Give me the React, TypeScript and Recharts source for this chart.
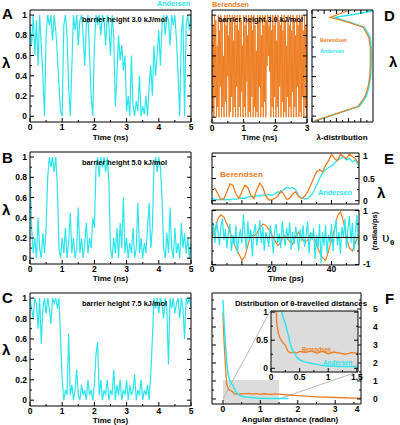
import React from "react";
import { ComposedChart, Line, XAxis, YAxis, ReferenceLine, ReferenceArea } from "recharts";

const FONT = '"Liberation Sans", Arial, Helvetica, sans-serif';
const CYAN = "#2CE6EE";
const ORANGE = "#EE7D22";

// λ(t) traces, one sample every 0.05 ns (A–C) / 0.02 ns (D, Berendsen)
const lambdaA = [
  0.9, 0.7, 1.0, 0.6, 0.95, 0.5, 1.0, 0.7, 0.4, 0.0, 0.8, 1.0, 0.9, 1.0, 0.75, 1.0, 0.85, 0.6, 0.3, 0.05,
  0.0, 0.9, 1.0, 0.8, 0.3, 0.0, 0.5, 1.0, 0.85, 1.0, 0.7, 0.95, 1.0, 0.8, 0.5, 0.9, 1.0, 0.6, 0.2, 0.0,
  0.7, 1.0, 0.9, 1.0, 0.8, 1.0, 0.95, 0.7, 1.0, 0.9, 0.6, 1.0, 0.8, 0.1, 0.4, 0.8, 0.55, 0.7, 0.45, 0.6,
  0.05, 0.2, 0.0, 0.6, 0.1, 0.0, 0.15, 0.05, 0.4, 0.0, 0.1, 0.02, 0.2, 0.0, 0.3, 0.5, 0.2, 0.7, 0.4, 0.6,
  0.85, 0.5, 0.9, 1.0, 0.8, 1.0, 0.95, 0.7, 1.0, 0.9, 1.0, 0.75, 0.4, 0.0, 0.8, 1.0, 0.0, 0.9, 1.0, 0.85,
  1.0,
];
const lambdaB = [
  0.9, 0.3, 0.05, 0.2, 0.0, 0.4, 0.1, 0.0, 0.25, 0.05, 0.3, 0.8, 1.0, 0.9, 1.0, 0.85, 1.0, 0.7, 0.1, 0.0,
  0.2, 0.05, 0.3, 0.0, 0.15, 0.45, 0.05, 0.2, 0.0, 0.1, 0.5, 0.05, 0.2, 0.0, 0.15, 0.35, 0.05, 0.2, 0.1, 0.4,
  0.3, 0.9, 1.0, 0.8, 1.0, 0.9, 1.0, 0.85, 1.0, 0.75, 0.1, 0.0, 0.2, 0.05, 0.3, 0.0, 0.35, 0.1, 0.6, 0.05,
  0.2, 0.0, 0.15, 0.05, 0.3, 0.0, 0.1, 0.55, 0.05, 0.2, 0.0, 0.15, 0.05, 0.3, 0.55, 0.1, 0.3, 0.9, 1.0, 0.85,
  1.0, 0.9, 0.6, 0.1, 0.0, 0.25, 0.05, 0.5, 0.1, 0.0, 0.3, 0.05, 0.15, 0.0, 0.35, 0.1, 0.25, 0.05, 0.2, 0.0,
  0.15,
];
const lambdaC = [
  1.0, 0.9, 0.8, 1.0, 0.95, 0.7, 1.0, 0.55, 0.9, 1.0, 0.85, 1.0, 0.9, 0.75, 1.0, 0.95, 1.0, 0.9, 1.0, 0.6,
  0.2, 0.0, 0.1, 0.05, 0.65, 0.05, 0.15, 0.0, 0.1, 0.3, 0.05, 0.0, 0.15, 0.05, 0.1, 0.0, 0.2, 0.05, 0.1, 0.0,
  0.15, 0.45, 0.57, 0.05, 0.2, 0.0, 0.1, 0.05, 0.2, 0.0, 0.1, 0.05, 0.3, 0.0, 0.15, 0.05, 0.2, 0.0, 0.1, 0.05,
  0.2, 0.0, 0.15, 0.05, 0.1, 0.25, 0.0, 0.1, 0.05, 0.2, 0.0, 0.1, 0.05, 0.15, 0.0, 0.25, 0.6, 1.0, 0.9, 1.0,
  0.85, 1.0, 0.95, 0.8, 1.0, 0.9, 0.35, 1.0, 0.9, 1.0, 0.85, 0.95, 1.0, 0.8, 1.0, 0.9, 0.6, 1.0, 0.95, 1.0,
  0.9,
];
const lambdaD = [
  1, 0.05, 0.9, 0, 1, 0.2, 0.95, 0.0, 0.7, 0.1, 1, 0.0, 0.85, 0.3, 1, 0.0, 0.95, 0.1, 0.6, 0.0,
  1, 0.15, 0.9, 0.0, 1, 0.4, 0.8, 0.0, 1, 0.05, 0.95, 0.2, 1, 0.0, 0.75, 0.1, 1, 0.0, 0.9, 0.3,
  1, 0.0, 0.85, 0.1, 1, 0.0, 0.95, 0.25, 0.7, 0.0, 1, 0.1, 0.9, 0.0, 1, 0.35, 0.8, 0.0, 1, 0.05,
  0.95, 0.0, 1, 0.2, 0.85, 0.0, 1, 0.1, 0.9, 0.0, 0.65, 0.05, 1, 0.0, 0.95, 0.3, 1, 0.0, 0.8, 0.1,
  1, 0.0, 0.9, 0.15, 1, 0.0, 0.95, 0.5, 1, 0.6, 0.9, 0.45, 1, 0.0, 0.85, 0.1, 1, 0.0, 0.9, 0.2,
  1, 0.0, 0.75, 0.1, 1, 0.0, 0.95, 0.3, 0.9, 0.0, 1, 0.15, 0.85, 0.0, 1, 0.05, 0.95, 0.0, 0.7, 0.2,
  1, 0.0, 0.9, 0.1, 1, 0.0, 0.85, 0.25, 1, 0.0, 0.95, 0.1, 0.8, 0.0, 1, 0.3, 0.9, 0.0, 1, 0.05,
  0.95, 0.0, 1, 0.2, 0.85, 0.0, 1, 0.1, 0.9, 0.0, 1,
];

// λ-distribution (panel D, right)
const distLambda = [1.05, 1.0, 0.9, 0.8, 0.7, 0.6, 0.5, 0.4, 0.3, 0.2, 0.1, 0.05, 0.0, -0.03, -0.065];
const distBerendsen = [0.04, 0.28, 0.76, 0.87, 0.92, 0.945, 0.955, 0.957, 0.955, 0.93, 0.84, 0.6, 0.3, 0.42, 0.58];
const distAndersen = [0.04, 0.29, 0.78, 0.89, 0.935, 0.96, 0.97, 0.972, 0.97, 0.95, 0.86, 0.62, 0.36, 0.68, 1.0];

// panel E, 1 ps samples (λ) ; velocity: Berendsen 1 ps, Andersen 0.5 ps
const eLambdaBerendsen = [
  0.25, 0.28, 0.15, 0.02, 0.05, 0.2, 0.38, 0.35, 0.15, 0.05, 0.2, 0.35, 0.3, 0.12, 0.05, 0.25, 0.4, 0.3, 0.1, 0.02,
  0.02, 0.05, 0.1, 0.22, 0.15, 0.03, 0.05, 0.15, 0.2, 0.1, 0.05, 0.1, 0.2, 0.35, 0.5, 0.65, 0.7, 0.65, 0.8, 0.9,
  1.05, 0.95, 0.9, 1.05, 1.0, 0.95, 1.05, 1.0, 0.95, 0.85,
];
const eLambdaAndersen = [
  0.05, 0.03, 0.02, 0.04, 0.02, 0.03, 0.02, 0.04, 0.03, 0.05, 0.06, 0.05, 0.08, 0.1, 0.09, 0.12, 0.1, 0.13, 0.12, 0.14,
  0.12, 0.15, 0.2, 0.18, 0.25, 0.3, 0.28, 0.3, 0.25, 0.1, 0.06, 0.04, 0.05, 0.1, 0.2, 0.35, 0.5, 0.62, 0.7, 0.75,
  0.78, 0.85, 0.92, 0.95, 1.0, 0.92, 0.95, 0.88, 0.92, 0.8,
];
const eVelBerendsen = [
  0.0, 0.3, 0.7, 0.85, 0.75, 0.5, 0.2, -0.1, -0.4, -0.6, -0.85, -0.7, -0.3, 0.1, 0.05, 0.15, 0.35, 0.5, 0.45, 0.3,
  0.1, -0.1, -0.3, -0.2, 0.1, 0.0, -0.15, -0.25, 0.05, 0.2, 0.0, -0.2, -0.1, 0.15, 0.1, -0.3, -0.55, -0.75, -0.85, -0.5,
  -0.1, 0.3, 0.8, 0.95, 0.6, 0.0, -0.4, -0.5, -0.2, 0.1,
];
const eVelAndersen = [
  0.1, 0.5, -0.2, 0.6, 0.2, -0.3, 0.4, 0.7, -0.1, 0.3, -0.4, 0.2, 0.5, -0.5, 0.1, -0.3, 0.45, -0.6, 0.0, 0.3,
  -0.2, 0.85, 0.1, -0.45, 0.6, -0.1, 0.3, -0.7, 0.2, 0.5, -0.3, 0.1, 0.65, -0.2, 0.4, -0.5, 0.2, 0.0, -0.35, 0.45,
  0.1, -0.6, 0.3, 0.5, -0.2, 0.15, -0.4, 0.6, 0.0, -0.3, 0.35, -0.1, 0.55, -0.45, 0.2, -0.25, 0.4, 0.05, -0.5, 0.3,
  -0.15, 0.45, -0.35, 0.1, 0.6, -0.6, 0.2, -0.1, 0.35, -0.8, 0.1, -0.4, 0.5, -0.95, 0.2, -0.3, 0.45, -0.6, 0.1, -0.2,
  0.5, -0.5, 0.3, 0.65, -0.3, 0.2, -0.6, 0.4, 0.0, 0.7, -0.4, 0.3, 0.8, -0.2, 0.55, -0.5, 0.25, 0.85, -0.3,
];

// panel F: distribution of θ-travelled distances
const fDistance = [0, 0.02, 0.05, 0.08, 0.1, 0.13, 0.16, 0.2, 0.25, 0.3, 0.35, 0.4, 0.45, 0.5, 0.6, 0.7, 0.8, 0.9, 1.0, 1.1, 1.2, 1.3, 1.4, 1.5, 1.75, 2.0, 2.5, 3.0, 3.5, 4.0];
const fBerendsen = [4.8, 3.6, 2.4, 1.4, 0.8, 0.62, 0.53, 0.47, 0.41, 0.3, 0.27, 0.29, 0.27, 0.3, 0.28, 0.31, 0.27, 0.3, 0.26, 0.29, 0.27, 0.25, 0.28, 0.27, 0.22, 0.18, 0.12, 0.08, 0.05, 0.04];
const fAndersen = [5.5, 4.6, 3.6, 2.6, 2.1, 1.5, 1.15, 0.95, 0.8, 0.6, 0.38, 0.28, 0.2, 0.15, 0.11, 0.09, 0.07, 0.05, 0.04, 0.04, 0.03, 0.03, 0.03, 0.03, 0.02, null, null, null, null, null];

// tick sets
const lamTicks = [0, 0.1, 0.2, 0.3, 0.4, 0.5, 0.6, 0.7, 0.8, 0.9, 1];
const lamMajors = [0, 0.2, 0.4, 0.6, 0.8, 1];
const nsTicks = [0, 0.5, 1, 1.5, 2, 2.5, 3, 3.5, 4, 4.5, 5];
const nsMajors = [0, 1, 2, 3, 4, 5];
const ns3Ticks = [0, 0.5, 1, 1.5, 2, 2.5, 3];
const densTicksD = [0, 0.1, 0.2, 0.3, 0.4, 0.5, 0.6, 0.7, 0.8, 0.9];
const psTicks = [0, 5, 10, 15, 20, 25, 30, 35, 40, 45];
const psMajors = [0, 10, 20, 30, 40];
const psLabels = [0, 20, 40];
const quarterTicks = [0, 0.25, 0.5, 0.75, 1];
const halfMajors = [0, 0.5, 1];
const velTicks = [-1, -0.5, 0, 0.5, 1];
const velMajors = [-1, 0, 1];
const angTicks = [0, 0.5, 1, 1.5, 2, 2.5, 3, 3.5];
const angMajors = [0, 1, 2, 3];
const fyTicks = [0, 0.5, 1, 1.5, 2, 2.5, 3, 3.5, 4, 4.5, 5, 5.5];
const fyMajors = [0, 1, 2, 3, 4, 5];
const insetXTicks = [0, 0.25, 0.5, 0.75, 1, 1.25, 1.5];
const insetXMajors = [0, 0.5, 1, 1.5];

const series = (vals: (number | null)[], step: number) => vals.map((v, i) => ({ t: +(i * step).toFixed(3), v }));
const pairs = (xs: number[], vs: (number | null)[]) => xs.map((t, i) => ({ t, v: vs[i] }));

type Side = "left" | "right" | "top" | "bottom";
type Ax = { domain: [number, number]; ticks: number[]; majors: number[]; labels?: number[]; off?: number };

const labelStyle = { fontFamily: FONT, fontSize: 8.5, fontWeight: 700, fill: "#000" };

function mkTick(side: Side, ax: Ax, show: boolean) {
  const shown = ax.labels ?? ax.majors;
  const off = ax.off ?? 3;
  return (p: any) => {
    const v = Number(p.payload.value);
    const has = (arr: number[]) => arr.some((m) => Math.abs(m - v) < 1e-6);
    const len = has(ax.majors) ? 4 : 2;
    const { x, y } = p;
    let x2 = x, y2 = y, tx = x, ty = y;
    let anchor: "start" | "middle" | "end" = "middle";
    if (side === "bottom") { y2 = y - len; ty = y + off + 6.5; }
    else if (side === "top") { y2 = y + len; ty = y - off; }
    else if (side === "left") { x2 = x + len; tx = x - off; ty = y + 3; anchor = "end"; }
    else { x2 = x - len; tx = x + off; ty = y + 3; anchor = "start"; }
    return (
      <g>
        <line x1={x} y1={y} x2={x2} y2={y2} stroke="#000" strokeWidth={1} />
        {show && has(shown) ? (
          <text x={tx} y={ty} textAnchor={anchor} style={labelStyle}>{String(v)}</text>
        ) : null}
      </g>
    );
  };
}

// Each axis takes 1px so it still renders; the chart is grown by that amount on every side.
function Panel({ box, x, y, xKey = "t", yKey, layout = "horizontal", labels = "", children }: any) {
  const [x0, y0, x1, y1] = box;
  const common: any = {
    type: "number", allowDataOverflow: true, interval: 0, tickSize: 0, tickMargin: 0,
    tickLine: false, axisLine: { stroke: "#000", strokeWidth: 1 },
  };
  return (
    <div style={{ position: "absolute", left: x0 - 1, top: y0 - 1 }}>
      <ComposedChart width={x1 - x0 + 2} height={y1 - y0 + 2} layout={layout} margin={{ top: 0, right: 0, bottom: 0, left: 0 }}>
        <XAxis {...common} xAxisId="b" orientation="bottom" dataKey={layout === "horizontal" ? xKey : undefined} domain={x.domain} ticks={x.ticks} height={1} tick={mkTick("bottom", x, labels.includes("b"))} />
        <XAxis {...common} xAxisId="t" orientation="top" domain={x.domain} ticks={x.ticks} height={1} tick={mkTick("top", x, false)} />
        <YAxis {...common} yAxisId="l" orientation="left" dataKey={yKey} domain={y.domain} ticks={y.ticks} width={1} tick={mkTick("left", y, labels.includes("l"))} />
        <YAxis {...common} yAxisId="r" orientation="right" domain={y.domain} ticks={y.ticks} width={1} tick={mkTick("right", y, labels.includes("r"))} />
        {children}
      </ComposedChart>
    </div>
  );
}

const lineProps: any = { xAxisId: "b", yAxisId: "l", type: "linear", dot: false, isAnimationActive: false, dataKey: "v" };

const lamAxisABC: Ax = { domain: [-0.057, 1.05], ticks: lamTicks, majors: lamMajors };
const nsAxis: Ax = { domain: [0, 5], ticks: nsTicks, majors: nsMajors, off: 1 };

function Txt({ x, y, s = 9, c = "#000", a = "start", w = 700, f = FONT, len, rot, children }: any) {
  return (
    <text x={x} y={y} fontSize={s} fill={c} textAnchor={a} fontWeight={w} fontFamily={f}
      textLength={len} lengthAdjust={len ? "spacingAndGlyphs" : undefined}
      transform={rot ? `rotate(${rot} ${x} ${y})` : undefined}>
      {children}
    </text>
  );
}

export default function App() {
  return (
    <div style={{ position: "absolute", left: 0, top: 0, width: 400, height: 425, background: "#fff", overflow: "hidden" }}>
      <style>{`.recharts-surface{overflow:visible}`}</style>

      {/* A, B, C */}
      <Panel box={[30, 10, 191, 122]} x={nsAxis} y={lamAxisABC} labels="bl">
        <Line {...lineProps} data={series(lambdaA, 0.05)} stroke={CYAN} strokeWidth={1.2} />
      </Panel>
      <Panel box={[30, 152, 191, 264]} x={nsAxis} y={lamAxisABC} labels="bl">
        <Line {...lineProps} data={series(lambdaB, 0.05)} stroke={CYAN} strokeWidth={1.2} />
      </Panel>
      <Panel box={[30, 293, 191, 406]} x={nsAxis} y={lamAxisABC} labels="bl">
        <Line {...lineProps} data={series(lambdaC, 0.05)} stroke={CYAN} strokeWidth={1.2} />
      </Panel>

      {/* D */}
      <Panel box={[212, 10, 307, 123]} x={{ domain: [0, 3], ticks: ns3Ticks, majors: [0, 1, 2, 3], off: 1 }} y={{ domain: [-0.057, 1.05], ticks: lamTicks, majors: lamMajors }} labels="b">
        <Line {...lineProps} data={series(lambdaD, 0.02)} stroke={ORANGE} strokeWidth={1} />
      </Panel>
      <Panel box={[312, 10, 373, 122]} layout="vertical" yKey="lam" x={{ domain: [0, 1], ticks: densTicksD, majors: [0, 0.2, 0.4, 0.6, 0.8] }} y={{ domain: [-0.075, 1.06], ticks: lamTicks, majors: lamMajors, off: 4 }} labels="r">
        <Line {...lineProps} data={distLambda.map((lam, i) => ({ lam, v: distAndersen[i] }))} stroke={CYAN} strokeWidth={1.5} />
        <Line {...lineProps} data={distLambda.map((lam, i) => ({ lam, v: distBerendsen[i] }))} stroke={ORANGE} strokeWidth={1.2} />
      </Panel>

      {/* E */}
      <Panel box={[212, 153, 359, 204]} x={{ domain: [0, 49.2], ticks: psTicks, majors: psMajors }} y={{ domain: [-0.075, 1.077], ticks: quarterTicks, majors: halfMajors, off: 4 }} labels="r">
        <Line {...lineProps} data={series(eLambdaAndersen, 1)} stroke={CYAN} strokeWidth={1.3} />
        <Line {...lineProps} data={series(eLambdaBerendsen, 1)} stroke={ORANGE} strokeWidth={1.3} />
      </Panel>
      <Panel box={[212, 210, 359, 265]} x={{ domain: [0, 49.2], ticks: psTicks, majors: psMajors, labels: psLabels, off: 0 }} y={{ domain: [-1.02, 1.02], ticks: velTicks, majors: velMajors, off: 4 }} labels="br">
        <Line {...lineProps} data={series(eVelBerendsen, 1)} stroke={ORANGE} strokeWidth={1.2} />
        <Line {...lineProps} data={series(eVelAndersen, 0.5)} stroke={CYAN} strokeWidth={1.2} />
        <ReferenceLine xAxisId="b" yAxisId="l" y={0} stroke="#000" strokeWidth={1.2} />
      </Panel>

      {/* F */}
      <Panel box={[212, 293, 361, 404]} x={{ domain: [-0.293, 3.69], ticks: angTicks, majors: angMajors, off: 1 }} y={{ domain: [-0.28, 5.89], ticks: fyTicks, majors: fyMajors, off: 12 }} labels="br">
        <ReferenceArea xAxisId="b" yAxisId="l" x1={0} x2={1.5} y1={-0.28} y2={1.06} fill="#dcdcdc" fillOpacity={1} stroke="none" />
        <ReferenceLine xAxisId="b" yAxisId="l" segment={[{ x: 0, y: 0 }, { x: 1.26, y: 4.88 }]} stroke="#aaa" strokeWidth={0.8} />
        <ReferenceLine xAxisId="b" yAxisId="l" segment={[{ x: 1.5, y: 0 }, { x: 3.61, y: 1.52 }]} stroke="#aaa" strokeWidth={0.8} />
        <Line {...lineProps} data={pairs(fDistance, fBerendsen)} stroke={ORANGE} strokeWidth={1.3} />
        <Line {...lineProps} data={pairs(fDistance, fAndersen)} stroke={CYAN} strokeWidth={1.5} />
      </Panel>
      <Panel box={[271, 311, 358, 372]} x={{ domain: [0, 1.52], ticks: insetXTicks, majors: insetXMajors, off: 1 }} y={{ domain: [-0.066, 1.02], ticks: quarterTicks, majors: halfMajors }} labels="bl">
        <ReferenceArea xAxisId="b" yAxisId="l" x1={0} x2={1.52} y1={-0.066} y2={1.02} fill="#dcdcdc" fillOpacity={1} stroke="none" />
        <Line {...lineProps} data={pairs(fDistance, fBerendsen)} stroke={ORANGE} strokeWidth={1.3} />
        <Line {...lineProps} data={pairs(fDistance, fAndersen)} stroke={CYAN} strokeWidth={1.5} />
      </Panel>

      <svg width={400} height={425} style={{ position: "absolute", left: 0, top: 0, pointerEvents: "none" }}>
        <Txt x={2} y={19} s={15}>A</Txt>
        <Txt x={2} y={163} s={15}>B</Txt>
        <Txt x={2} y={303} s={15}>C</Txt>
        <Txt x={384} y={21} s={15}>D</Txt>
        <Txt x={384} y={164} s={15}>E</Txt>
        <Txt x={385} y={304} s={15}>F</Txt>

        <Txt x={2} y={68} s={15}>λ</Txt>
        <Txt x={2} y={215} s={15}>λ</Txt>
        <Txt x={2} y={355} s={15}>λ</Txt>
        <Txt x={389} y={67} s={15}>λ</Txt>
        <Txt x={377} y={198} s={15}>λ</Txt>
        <Txt x={382} y={242} s={15} w={400} f='"Liberation Serif", "DejaVu Serif", serif'>υ</Txt>
        <Txt x={390} y={245} s={8}>θ</Txt>
        <Txt x={377} y={231} s={7.5} a="middle" rot={-90}>(radian/ps)</Txt>

        <Txt x={110.5} y={140} s={8} a="middle">Time (ns)</Txt>
        <Txt x={110.5} y={281} s={8} a="middle">Time (ns)</Txt>
        <Txt x={110.5} y={423} s={8} a="middle">Time (ns)</Txt>
        <Txt x={259.5} y={140} s={8} a="middle">Time (ns)</Txt>
        <Txt x={342} y={140} s={8} a="middle">λ-distribution</Txt>
        <Txt x={286} y={281} s={8} a="middle">Time (ps)</Txt>
        <Txt x={290} y={422} s={8} a="middle">Angular distance (radian)</Txt>
        <Txt x={357} y={411.5} s={8.5} a="middle">4</Txt>

        <Txt x={82} y={22} s={7.5} len={85}>barrier height 3.0 kJ/mol</Txt>
        <Txt x={82} y={165} s={7.5} len={85}>barrier height 5.0 kJ/mol</Txt>
        <Txt x={82} y={306} s={7.5} len={85}>barrier height 7.5 kJ/mol</Txt>
        <Txt x={218} y={22} s={7.5} len={85}>barrier height 3.0 kJ/mol</Txt>

        <Txt x={190} y={6} s={7.2} c={CYAN} a="end" len={33}>Andersen</Txt>
        <Txt x={212} y={7} s={7.2} c={ORANGE} len={37}>Berendsen</Txt>
        <Txt x={320} y={42} s={6} c={ORANGE} len={27}>Berendsen</Txt>
        <Txt x={320} y={53} s={6} c={CYAN} len={24}>Andersen</Txt>
        <Txt x={220} y={177} s={8} c={ORANGE} len={43}>Berendsen</Txt>
        <Txt x={318} y={195} s={7.4} c={CYAN} len={34}>Andersen</Txt>
        <Txt x={235} y={306} s={7.5} len={132}>Distribution of θ-travelled distances</Txt>
        <Txt x={302} y={352} s={6.5} c={ORANGE} len={29}>Berendsen</Txt>
        <Txt x={323} y={365} s={6.5} c={CYAN} len={29}>Andersen</Txt>
      </svg>
    </div>
  );
}
